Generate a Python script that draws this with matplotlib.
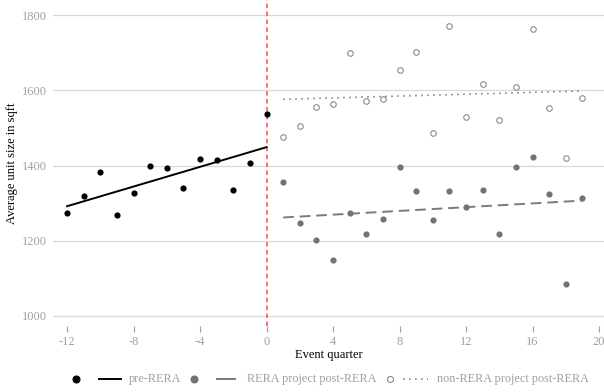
import numpy as np
import matplotlib
matplotlib.use("Agg")
import matplotlib.pyplot as plt
from matplotlib.lines import Line2D

plt.rcParams['font.family'] = ['Liberation Serif', 'DejaVu Serif']

pre_x = [-12, -11, -10, -9, -8, -7, -6, -5, -4, -3, -2, -1, 0]
pre_y = [1274, 1320, 1384, 1268, 1326, 1398, 1393, 1339, 1418, 1415, 1336, 1406, 1537]

post_x = list(range(1, 20))
rera_y = [1357, 1248, 1202, 1149, 1274, 1217, 1258, 1395, 1332, 1256,
          1333, 1289, 1334, 1218, 1397, 1422, 1323, 1085, 1313]
nonrera_y = [1476, 1505, 1556, 1564, 1699, 1571, 1578, 1654, 1703, 1486,
             1772, 1528, 1618, 1522, 1610, 1762, 1552, 1420, 1579]

xticks = [-12, -8, -4, 0, 4, 8, 12, 16, 20]
yticks = [1000, 1200, 1400, 1600, 1800]
labels = ["pre-RERA", "RERA project post-RERA", "non-RERA project post-RERA"]

W, H = 604, 392
fig = plt.figure(figsize=(W / 100, H / 100), dpi=100)
ax = fig.add_axes([0.0877, 0.168, 0.9123, 0.832])

gray_pt = '#737373'
gray_ln = '#7a7a7a'
gray_dot = '#8a8a8a'
tick_col = '#a0a0a0'

ax.axvline(0, color='#ff4d4d', lw=1.1, linestyle=(0, (3, 2.2)), zorder=1)

# pre-RERA
ax.scatter(pre_x, pre_y, s=20, color='black', zorder=3, linewidths=0)
c = np.polyfit(pre_x, pre_y, 1)
xs = np.array([min(pre_x), max(pre_x)])
ax.plot(xs, np.polyval(c, xs), color='black', lw=1.4, zorder=2)

# RERA post
ax.scatter(post_x, rera_y, s=20, color=gray_pt, zorder=3, linewidths=0)
c = np.polyfit(post_x, rera_y, 1)
xs = np.array([min(post_x), max(post_x)])
ax.plot(xs, np.polyval(c, xs), color=gray_ln, lw=1.4, linestyle=(0, (5.5, 3)), zorder=2)

# non-RERA post
ax.scatter(post_x, nonrera_y, s=16, facecolors='white', edgecolors=gray_dot, linewidths=0.8, zorder=3)
c = np.polyfit(post_x, nonrera_y, 1)
ax.plot(xs, np.polyval(c, xs), color=gray_dot, lw=1.2, linestyle=(0, (1, 2.6)), zorder=2)

ax.set_xlim(-12.85, 20.3)
ax.set_ylim(973, 1840)
ax.set_xticks(xticks)
ax.set_xticklabels([str(t) for t in xticks])
ax.set_yticks(yticks)
ax.yaxis.grid(True, color='#d9d9d9', lw=0.9)
ax.set_axisbelow(True)
for s in ax.spines.values():
    s.set_visible(False)
ax.tick_params(axis='x', colors=tick_col, length=4, width=0.8, labelsize=9, pad=3)
ax.tick_params(axis='y', colors=tick_col, length=0, labelsize=9, pad=4)
ax.set_xlabel("Event quarter", fontsize=9, color='black', labelpad=1)
ax.set_ylabel("Average unit size in sqft", fontsize=9, color='black', labelpad=3)

# manual legend (pixel layout)
def fx(px):
    return px / W

ly = 1 - 379 / H
entries = [
    dict(dot=76, l0=99, l1=121, tx=129, mfc='black', mec='black', ms=5, lc='black', lw=1.4, ls='-'),
    dict(dot=194, l0=217, l1=235, tx=247, mfc=gray_pt, mec=gray_pt, ms=5, lc=gray_ln, lw=1.4, ls='-'),
    dict(dot=390, l0=403, l1=428, tx=437, mfc='white', mec=gray_dot, ms=4.3, lc=gray_dot, lw=1.2, ls=(0, (1, 2.6))),
]
for e, lab in zip(entries, labels):
    fig.add_artist(Line2D([fx(e['dot'])], [ly], transform=fig.transFigure, marker='o', ls='none',
                          markerfacecolor=e['mfc'], markeredgecolor=e['mec'], markersize=e['ms'],
                          markeredgewidth=0.8))
    fig.add_artist(Line2D([fx(e['l0']), fx(e['l1'])], [ly, ly], transform=fig.transFigure,
                          color=e['lc'], lw=e['lw'], linestyle=e['ls']))
    fig.text(fx(e['tx']), ly, lab, ha='left', va='center', fontsize=8.8, color=tick_col)

fig.savefig("out.png", dpi=100)
